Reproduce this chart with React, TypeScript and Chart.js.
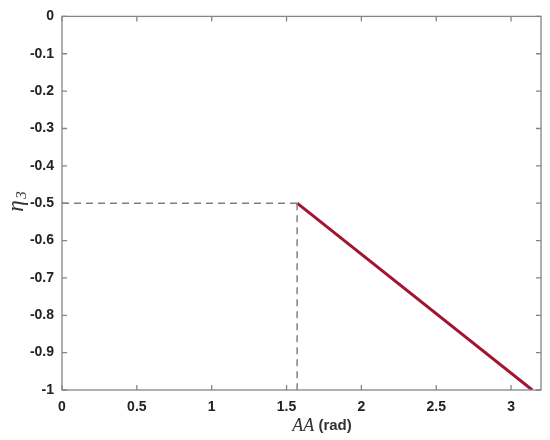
import React, { useEffect, useRef } from "react";
import { Chart, registerables } from "chart.js";

Chart.register(...registerables);

const redX = [Math.PI / 2, Math.PI];
const redY = [-0.5, -1];
const dashHX = [0, Math.PI / 2];
const dashHY = [-0.5, -0.5];
const dashVX = [Math.PI / 2, Math.PI / 2];
const dashVY = [-0.5, -1];
const xTicks = [0, 0.5, 1, 1.5, 2, 2.5, 3];
const yTicks = [0, -0.1, -0.2, -0.3, -0.4, -0.5, -0.6, -0.7, -0.8, -0.9, -1];

const toPts = (xs: number[], ys: number[]) => xs.map((x, i) => ({ x, y: ys[i] }));

const boxPlugin = {
  id: "boxTicks",
  afterDatasetsDraw(chart: any) {
    const { ctx, chartArea: a, scales } = chart;
    const xs = scales.x;
    const ys = scales.y;
    ctx.save();
    ctx.strokeStyle = "#858585";
    ctx.lineWidth = 1.3;
    ctx.strokeRect(a.left, a.top, a.right - a.left, a.bottom - a.top);
    const L = 5;
    ctx.beginPath();
    xTicks.forEach((v) => {
      const p = xs.getPixelForValue(v);
      ctx.moveTo(p, a.bottom);
      ctx.lineTo(p, a.bottom - L);
      ctx.moveTo(p, a.top);
      ctx.lineTo(p, a.top + L);
    });
    yTicks.forEach((v) => {
      const p = ys.getPixelForValue(v);
      ctx.moveTo(a.left, p);
      ctx.lineTo(a.left + L, p);
      ctx.moveTo(a.right, p);
      ctx.lineTo(a.right - L, p);
    });
    ctx.stroke();
    // axis titles
    ctx.fillStyle = "#333";
    ctx.textBaseline = "middle";
    const ty = 426;
    ctx.font = "italic 18px 'Liberation Serif', serif";
    const t1 = "AA";
    const w1 = ctx.measureText(t1).width;
    ctx.font = "bold 15px 'Liberation Sans', Arial, sans-serif";
    const t2 = " (rad)";
    const w2 = ctx.measureText(t2).width;
    const sx = 322 - (w1 + w2) / 2;
    ctx.font = "italic 18px 'Liberation Serif', serif";
    ctx.textAlign = "left";
    ctx.fillText(t1, sx, ty);
    ctx.font = "bold 15px 'Liberation Sans', Arial, sans-serif";
    ctx.fillText(t2, sx + w1, ty);
    ctx.translate(17, 203);
    ctx.rotate(-Math.PI / 2);
    ctx.textAlign = "center";
    ctx.font = "italic 23px 'Liberation Serif', serif";
    ctx.fillText("η", -3, 0);
    ctx.font = "italic 15px 'Liberation Serif', serif";
    ctx.fillText("3", 8, 5);
    ctx.restore();
  },
};

export default function App() {
  const ref = useRef<HTMLCanvasElement>(null);
  useEffect(() => {
    document.body.style.margin = "0";
    const chart = new Chart(ref.current!, {
      type: "scatter",
      data: {
        datasets: [
          {
            data: toPts(dashHX, dashHY),
            showLine: true,
            borderColor: "#808080",
            borderWidth: 1.5,
            borderDash: [7, 5],
            pointRadius: 0,
          },
          {
            data: toPts(dashVX, dashVY),
            showLine: true,
            borderColor: "#808080",
            borderWidth: 1.5,
            borderDash: [7, 5],
            pointRadius: 0,
          },
          {
            data: toPts(redX, redY),
            showLine: true,
            borderColor: "#a2142f",
            borderWidth: 3,
            pointRadius: 0,
          },
        ],
      },
      options: {
        animation: false,
        responsive: false,
        layout: { padding: { top: 13, right: 9, left: 0, bottom: 0 } },
        plugins: { legend: { display: false }, tooltip: { enabled: false } },
        scales: {
          x: {
            type: "linear",
            min: 0,
            max: 3.2,
            afterBuildTicks: (s: any) => {
              s.ticks = xTicks.map((v) => ({ value: v }));
            },
            afterFit: (s: any) => {
              s.height = 50;
            },
            grid: { display: false, drawTicks: false },
            border: { display: false },
            ticks: {
              padding: 9,
              color: "#222",
              font: { family: "'Liberation Sans', Arial, sans-serif", size: 14, weight: "bold" },
              callback: (v: any) => String(v),
            },
          },
          y: {
            type: "linear",
            min: -1,
            max: 0,
            afterBuildTicks: (s: any) => {
              s.ticks = yTicks.map((v) => ({ value: v }));
            },
            afterFit: (s: any) => {
              s.width = 62;
            },
            grid: { display: false, drawTicks: false },
            border: { display: false },
            ticks: {
              padding: 8,
              color: "#222",
              font: { family: "'Liberation Sans', Arial, sans-serif", size: 14, weight: "bold" },
              callback: (v: any) => (v === 0 ? "0" : String(v)),
            },
          },
        },
      },
      plugins: [boxPlugin],
    });
    return () => chart.destroy();
  }, []);
  return (
    <div style={{ width: 550, height: 440 }}>
      <canvas ref={ref} width={550} height={440} />
    </div>
  );
}
